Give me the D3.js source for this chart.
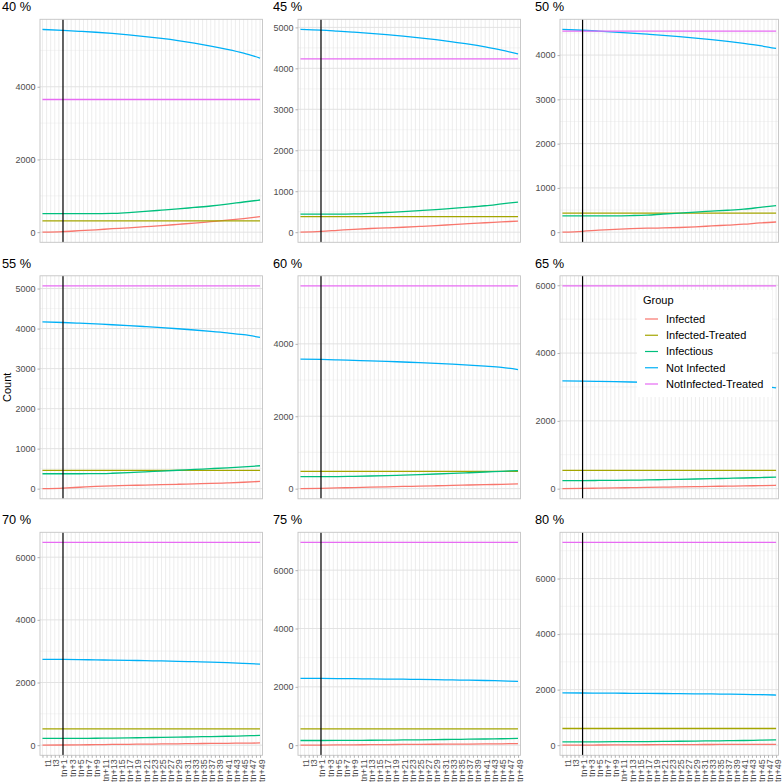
<!DOCTYPE html>
<html><head><meta charset="utf-8">
<script src="https://cdn.jsdelivr.net/npm/d3@7/dist/d3.min.js"></script>
<style>
body{margin:0;background:#fff}
svg{display:block}
text{font-family:"Liberation Sans",Arial,Helvetica,sans-serif}
</style>
</head><body>
<svg id="chart" width="784" height="784"></svg>
<script>
// ---------------- DATA ----------------
const panelTitles = ["40 %","45 %","50 %","55 %","60 %","65 %","70 %","75 %","80 %"];

const timePoints = ["t1","t2","t3","tn","tn+1","tn+2","tn+3","tn+4","tn+5","tn+6","tn+7","tn+8","tn+9","tn+10",
  "tn+11","tn+12","tn+13","tn+14","tn+15","tn+16","tn+17","tn+18","tn+19","tn+20","tn+21","tn+22","tn+23","tn+24",
  "tn+25","tn+26","tn+27","tn+28","tn+29","tn+30","tn+31","tn+32","tn+33","tn+34","tn+35","tn+36","tn+37","tn+38",
  "tn+39","tn+40","tn+41","tn+42","tn+43","tn+44","tn+45","tn+46","tn+47","tn+48","tn+49","tn+50"];

const labeledTimes = ["t1","t3","tn+1","tn+3","tn+5","tn+7","tn+9","tn+11","tn+13","tn+15","tn+17","tn+19","tn+21",
  "tn+23","tn+25","tn+27","tn+29","tn+31","tn+33","tn+35","tn+37","tn+39","tn+41","tn+43","tn+45","tn+47","tn+49"];

const sampleTimes = ["t1","tn+2","tn+6","tn+10","tn+14","tn+18","tn+22","tn+26","tn+30","tn+34","tn+38","tn+42","tn+46","tn+50"];

const interventionTime = "tn+2";

const groups = ["Infected","Infected-Treated","Infectious","Not Infected","NotInfected-Treated"];
const groupColors = ["#F8766D","#A3A500","#00BF7D","#00B0F6","#E76BF3"];

// one row per panel (40 % ... 80 %), one value per sample time
const infected = [
  [0,16,40,65,95,120,150,180,215,250,290,330,375,425],
  [0,20,45,70,90,105,120,140,160,185,210,230,250,270],
  [0,20,45,65,80,90,95,105,120,140,160,180,210,230],
  [0,15,35,55,70,80,90,100,110,120,130,145,160,180],
  [0,10,20,31,40,50,61,70,80,90,101,110,120,130],
  [0,8,15,22,30,38,45,52,60,68,75,82,90,100],
  [0,5,10,16,22,28,33,38,44,50,55,60,65,70],
  [0,4,8,12,16,20,24,28,32,35,39,43,47,52],
  [0,3,6,9,12,15,17,20,22,24,26,28,30,32]
];
const infectedTreated = [
  [310,310,310,310,310,310,310,310,310,310,310,310,310,310],
  [380,380,380,380,380,380,380,380,380,380,380,380,380,380],
  [430,430,430,430,430,430,430,430,430,430,430,430,430,430],
  [455,455,455,455,455,455,455,455,455,455,455,455,455,455],
  [480,480,480,480,480,480,480,480,480,480,480,480,480,480],
  [540,540,540,540,540,540,540,540,540,540,540,540,540,540],
  [520,520,520,520,520,520,520,520,520,520,520,520,520,520],
  [560,560,560,560,560,560,560,560,560,560,560,560,560,560],
  [600,600,600,600,600,600,600,600,600,600,600,600,600,600]
];
const infectious = [
  [511,511,511,511,515,540,570,605,640,680,720,770,830,885],
  [440,440,440,445,460,480,500,525,550,580,610,645,690,735],
  [370,370,370,370,375,385,410,430,455,475,495,520,560,600],
  [373,373,373,375,385,400,420,440,460,480,500,520,545,572],
  [330,330,335,340,350,360,375,390,405,420,440,460,480,500],
  [240,240,242,245,250,258,265,275,285,295,305,315,328,340],
  [215,215,217,220,225,232,240,248,256,265,275,285,297,310],
  [160,160,162,165,168,173,178,184,190,197,204,212,220,230],
  [120,120,122,124,127,131,136,141,147,154,161,168,178,190]
];
const notInfected = [
  [5577,5549,5525,5500,5468,5428,5382,5330,5270,5200,5120,5030,4925,4790],
  [4950,4932,4908,4882,4854,4822,4786,4746,4700,4648,4590,4522,4444,4350],
  [4580,4562,4542,4520,4497,4473,4447,4418,4386,4350,4310,4264,4212,4150],
  [4169,4152,4134,4115,4095,4073,4049,4023,3995,3964,3930,3892,3846,3781],
  [3580,3570,3558,3545,3531,3516,3499,3481,3461,3438,3412,3383,3348,3290],
  [3180,3174,3166,3157,3147,3136,3124,3111,3097,3081,3063,3042,3014,2975],
  [2740,2735,2729,2722,2714,2706,2697,2687,2676,2663,2648,2631,2610,2585],
  [2290,2287,2283,2278,2273,2267,2261,2254,2246,2237,2227,2216,2204,2190],
  [1880,1878,1875,1872,1868,1864,1860,1855,1850,1844,1837,1829,1818,1805]
];
const notInfectedTreated = [
  [3650,3650,3650,3650,3650,3650,3650,3650,3650,3650,3650,3650,3650,3650],
  [4230,4230,4230,4230,4230,4230,4230,4230,4230,4230,4230,4230,4230,4230],
  [4540,4540,4540,4540,4540,4540,4540,4540,4540,4540,4540,4540,4540,4540],
  [5065,5065,5065,5065,5065,5065,5065,5065,5065,5065,5065,5065,5065,5065],
  [5600,5600,5600,5600,5600,5600,5600,5600,5600,5600,5600,5600,5600,5600],
  [5980,5980,5980,5980,5980,5980,5980,5980,5980,5980,5980,5980,5980,5980],
  [6470,6470,6470,6470,6470,6470,6470,6470,6470,6470,6470,6470,6470,6470],
  [6950,6950,6950,6950,6950,6950,6950,6950,6950,6950,6950,6950,6950,6950],
  [7300,7300,7300,7300,7300,7300,7300,7300,7300,7300,7300,7300,7300,7300]
];

const yTicks = [
  [0,2000,4000],
  [0,1000,2000,3000,4000,5000],
  [0,1000,2000,3000,4000],
  [0,1000,2000,3000,4000,5000],
  [0,2000,4000],
  [0,2000,4000,6000],
  [0,2000,4000,6000],
  [0,2000,4000,6000],
  [0,2000,4000,6000]
];

const yAxisTitle = "Count";
const legendTitle = "Group";

// ---------------- LAYOUT ----------------
const colBounds = [[40,262.5],[298,520.5],[560,778.5]];
const rowBounds = [[19.3,242.3],[275.8,498.8],[532.3,755.3]];
const titleX = [2,273,535];

const seriesByGroup = [infected, infectedTreated, infectious, notInfected, notInfectedTreated];
const svg = d3.select("#chart");
svg.append("rect").attr("width",784).attr("height",784).attr("fill","#fff");

panelTitles.forEach((title, p) => {
  const c = p % 3, r = Math.floor(p / 3);
  const [x0, x1] = colBounds[c];
  const [y0, y1] = rowBounds[r];

  const x = d3.scalePoint().domain(timePoints).range([x0, x1]).padding(0.6);
  const all = seriesByGroup.flatMap(s => s[p]);
  const mn = d3.min(all), mx = d3.max(all), rg = mx - mn;
  const y = d3.scaleLinear().domain([mn - 0.05*rg, mx + 0.05*rg]).range([y1, y0]);

  const g = svg.append("g");
  const clipId = "clip" + p;
  g.append("clipPath").attr("id", clipId).append("rect")
    .attr("x", x0).attr("y", y0).attr("width", x1 - x0).attr("height", y1 - y0);

  // minor y grid
  const tk = yTicks[p];
  const step = tk[1] - tk[0];
  const minor = [tk[0] - step/2, ...tk.map(t => t + step/2)].filter(v => v > y.domain()[0] && v < y.domain()[1]);
  g.selectAll(".ymin").data(minor).join("line")
    .attr("x1", x0).attr("x2", x1).attr("y1", d => y(d)).attr("y2", d => y(d))
    .attr("stroke", "#EFEFEF").attr("stroke-width", 0.6);
  // vertical grid at each time point
  g.selectAll(".xg").data(timePoints).join("line")
    .attr("x1", d => x(d)).attr("x2", d => x(d)).attr("y1", y0).attr("y2", y1)
    .attr("stroke", "#E0E0E0").attr("stroke-width", 0.6);
  // major y grid
  g.selectAll(".ymaj").data(tk).join("line")
    .attr("x1", x0).attr("x2", x1).attr("y1", d => y(d)).attr("y2", d => y(d))
    .attr("stroke", "#E0E0E0").attr("stroke-width", 0.9);

  // series
  const line = d3.line().x(d => x(d[0])).y(d => y(d[1])).curve(d3.curveMonotoneX);
  const lg = g.append("g").attr("clip-path", `url(#${clipId})`);
  groups.forEach((grp, k) => {
    const pts = sampleTimes.map((t, j) => [t, seriesByGroup[k][p][j]]);
    lg.append("path").datum(pts).attr("d", line)
      .attr("fill", "none").attr("stroke", groupColors[k]).attr("stroke-width", 1.3);
  });
  // intervention line
  lg.append("line").attr("x1", x(interventionTime)).attr("x2", x(interventionTime))
    .attr("y1", y0).attr("y2", y1).attr("stroke", "#000").attr("stroke-width", 1.2);

  // border
  g.append("rect").attr("x", x0).attr("y", y0).attr("width", x1 - x0).attr("height", y1 - y0)
    .attr("fill", "none").attr("stroke", "#C4C4C4").attr("stroke-width", 0.9);

  // y axis
  const ya = g.append("g").attr("transform", `translate(${x0},0)`)
    .call(d3.axisLeft(y).tickValues(tk).tickSize(2.5).tickPadding(2).tickFormat(d3.format("d")));
  ya.select(".domain").remove();
  ya.selectAll("line").attr("stroke", "#B3B3B3");
  ya.selectAll("text").attr("fill", "#4D4D4D").style("font-size", "9px")
    .style("font-family", '"Liberation Sans",Arial,sans-serif');

  // x axis (bottom row only)
  if (r === 2) {
    const xa = g.append("g").attr("transform", `translate(0,${y1})`)
      .call(d3.axisBottom(x).tickSize(2.5).tickPadding(0)
        .tickFormat(d => labeledTimes.includes(d) ? d : ""));
    xa.select(".domain").remove();
    xa.selectAll("line").attr("stroke", "#B3B3B3");
    xa.selectAll("text")
      .attr("fill", "#4D4D4D").style("font-size", "9px")
      .style("font-family", '"Liberation Sans",Arial,sans-serif')
      .attr("text-anchor", "end")
      .attr("transform", "rotate(-90)")
      .attr("x", -4).attr("y", 0).attr("dy", "0.9em");
  }

  // panel title
  svg.append("text").attr("x", titleX[c]).attr("y", y0 - 8.3)
    .attr("fill", "#000").style("font-size", "12.8px").text(title);

  // legend inside the 65 % panel
  if (p === 5) {
    const lx = 637, ly = 290;
    const leg = svg.append("g");
    leg.append("rect").attr("x", lx).attr("y", ly).attr("width", 135).attr("height", 107).attr("fill", "#fff");
    leg.append("text").attr("x", lx + 6).attr("y", ly + 14).attr("fill", "#000")
      .style("font-size", "11px").text(legendTitle);
    groups.forEach((grp, k) => {
      const cy = ly + 29 + k * 16.25;
      leg.append("line").attr("x1", lx + 8).attr("x2", lx + 21).attr("y1", cy).attr("y2", cy)
        .attr("stroke", groupColors[k]).attr("stroke-width", 1.2);
      leg.append("text").attr("x", lx + 29).attr("y", cy).attr("dy", "0.36em").attr("fill", "#000")
        .style("font-size", "11px").text(grp);
    });
  }
});

// y axis title
svg.append("text")
  .attr("transform", `translate(11,${(rowBounds[1][0] + rowBounds[1][1]) / 2}) rotate(-90)`)
  .attr("text-anchor", "middle").attr("fill", "#000").style("font-size", "11px").text(yAxisTitle);
</script>
</body></html>
